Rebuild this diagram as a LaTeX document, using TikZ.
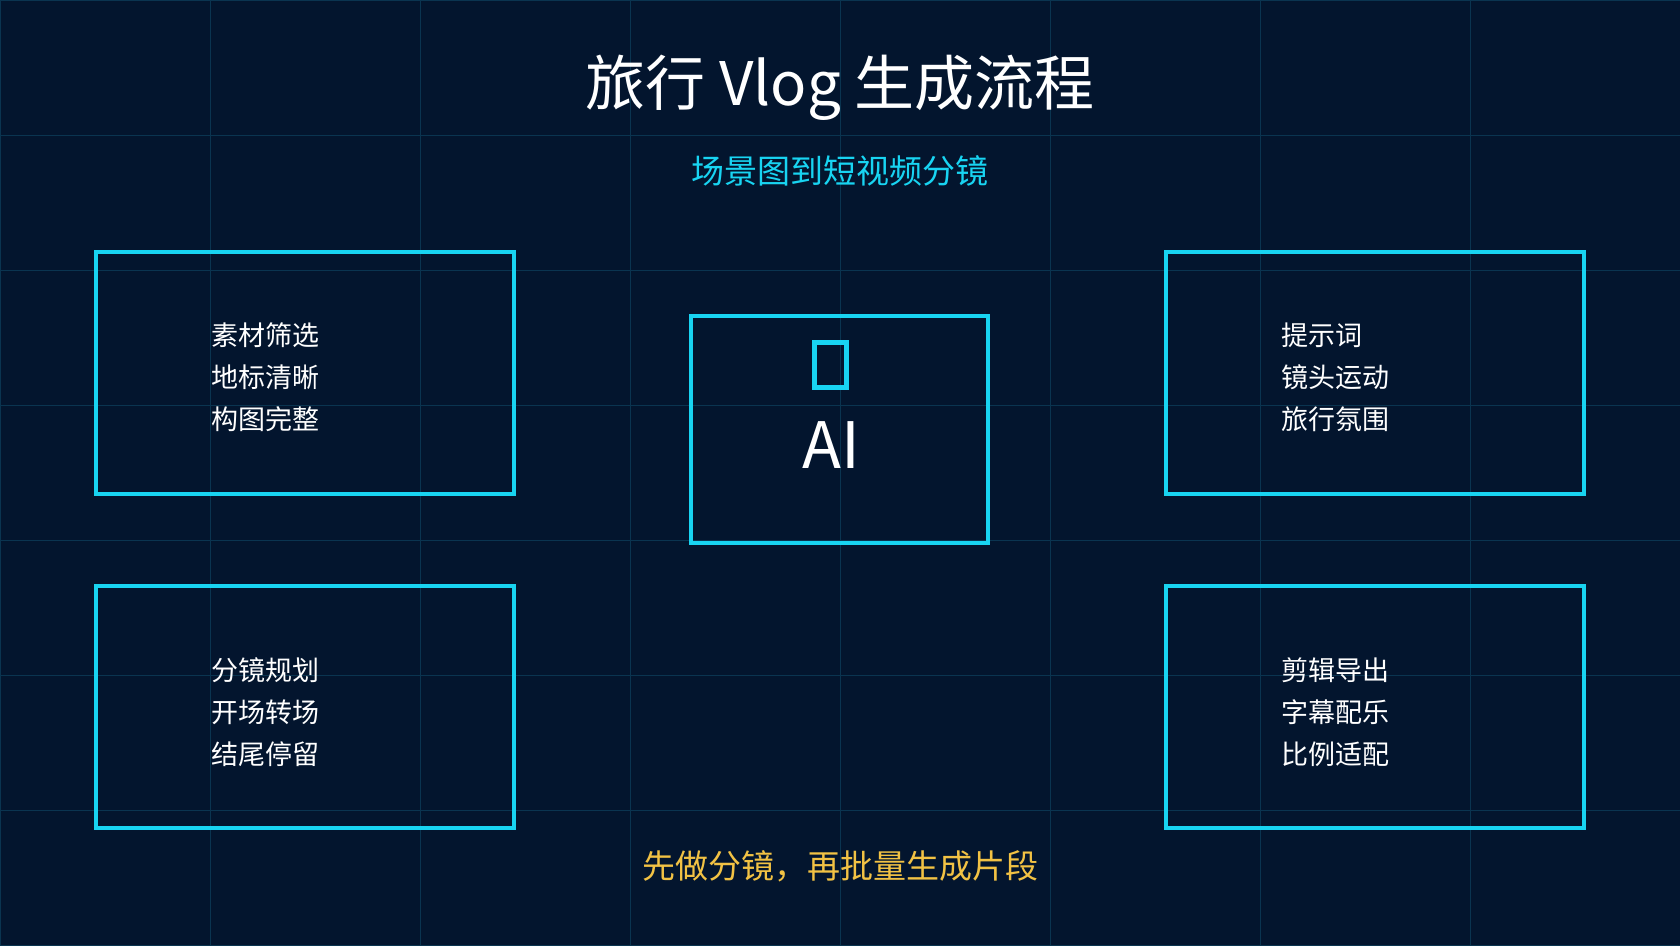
\documentclass[tikz,border=0pt]{standalone}
\usepackage{fontspec}
\setmainfont{Noto Sans CJK SC}
\begin{document}
\begin{tikzpicture}[x=1pt,y=-1pt,
  box/.style={draw=cy,line width=3.2pt},
  item/.style={text=white,font=\fontsize{27}{42}\selectfont,align=left,anchor=west}]
\definecolor{bg}{HTML}{03152E}
\definecolor{gridc}{HTML}{0A3450}
\definecolor{cy}{HTML}{18D4F2}
\definecolor{gold}{HTML}{F2C244}
\fill[bg] (0,0) rectangle (1680,945);
\useasboundingbox (0,0) rectangle (1680,945);
\foreach \x in {0,210,...,1680} \draw[gridc,line width=1pt] (\x,0) -- (\x,945);
\foreach \y in {0,135,...,945} \draw[gridc,line width=1pt] (0,\y) -- (1680,\y);
\node (title) at (840,88) {\fontsize{60}{70}\selectfont\color{white}旅行 Vlog 生成流程};
\node (sub) at (840,171) {\fontsize{33}{40}\selectfont\color{cy}场景图到短视频分镜};
\draw[box] (96,252) rectangle (514,494);
\draw[box] (96,586) rectangle (514,828);
\draw[box] (1166,252) rectangle (1584,494);
\draw[box] (1166,586) rectangle (1584,828);
\draw[box] (691,316) rectangle (988,543);
\draw[cy,line width=5pt] (814,342) rectangle (846,387);
\node (ai) at (831,445) {\fontsize{64}{70}\selectfont\color{white}AI};
\node[item] (t1) at (208,377) {素材筛选\\地标清晰\\构图完整};
\node[item] (t2) at (208,712) {分镜规划\\开场转场\\结尾停留};
\node[item] (t3) at (1278,377) {提示词\\镜头运动\\旅行氛围};
\node[item] (t4) at (1278,712) {剪辑导出\\字幕配乐\\比例适配};
\node (cap) at (840,866) {\fontsize{33}{40}\selectfont\color{gold}先做分镜，再批量生成片段};
\end{tikzpicture}
\end{document}
